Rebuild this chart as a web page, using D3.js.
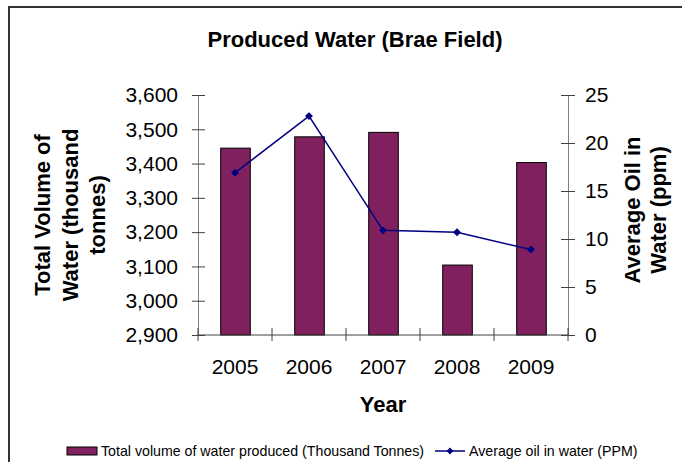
<!DOCTYPE html>
<meta charset="utf-8">
<head>
<style>
body {
  margin: 0;
  background: #fff;
  font-family: 'Liberation Sans', Arial, Helvetica, sans-serif;
}

.axis path {
  stroke: #808080;
}

.axis line {
  stroke: #404040;
}

.axis text {
  font-size: 21px;
  font-family: 'Liberation Sans', Arial, sans-serif;
  fill: #000;
}

.bar {
  fill: #80205f;
  stroke: #000;
  stroke-width: 1;
}

.title, .axis-title {
  font-weight: bold;
  font-size: 22px;
}

.legend text {
  font-size: 14.2px;
}
</style>
</head>

<body>
<div id="chart"></div>

<script src="https://d3js.org/d3.v7.min.js"></script>
<script>

var years = ["2005", "2006", "2007", "2008", "2009"];
var waterVolume = [3445, 3478, 3491, 3104, 3403];
var oilInWater = [16.9, 22.8, 10.9, 10.7, 8.9];
var leftTicks = [2900, 3000, 3100, 3200, 3300, 3400, 3500, 3600];
var rightTicks = [0, 5, 10, 15, 20, 25];

var width = 682, height = 462;
var plot = {left: 198, right: 568, top: 95, bottom: 335};

var svg = d3.select("#chart").append("svg")
    .attr("width", width)
    .attr("height", height);

// outer frame (cut off at right and bottom)
svg.append("rect")
    .attr("x", 9)
    .attr("y", 7)
    .attr("width", 700)
    .attr("height", 500)
    .attr("fill", "none")
    .attr("stroke", "#333")
    .attr("stroke-width", 2);

var x = d3.scaleBand()
    .domain(years)
    .range([plot.left, plot.right])
    .paddingInner(0.6)
    .paddingOuter(0.3);

var xTicks = d3.scaleBand()
    .domain(years)
    .range([plot.left, plot.right]);

var yLeft = d3.scaleLinear()
    .domain([2900, 3600])
    .range([plot.bottom, plot.top]);

var yRight = d3.scaleLinear()
    .domain([0, 25])
    .range([plot.bottom, plot.top]);

var data = years.map(function(d, i) {
  return {year: d, water: waterVolume[i], oil: oilInWater[i]};
});

// bars
svg.selectAll(".bar")
    .data(data)
  .enter().append("rect")
    .attr("class", "bar")
    .attr("x", function(d) { return x(d.year) + 0.5; })
    .attr("width", x.bandwidth())
    .attr("y", function(d) { return yLeft(d.water); })
    .attr("height", function(d) { return plot.bottom - yLeft(d.water); });

// left axis
var leftAxis = svg.append("g")
    .attr("class", "axis")
    .attr("transform", "translate(" + plot.left + ",0)")
    .call(d3.axisLeft(yLeft)
      .tickValues(leftTicks)
      .tickFormat(d3.format(","))
      .tickSizeOuter(0)
      .tickSizeInner(6)
      .tickPadding(14));
leftAxis.selectAll(".tick line").attr("x2", 7).attr("x1", -6);

// right axis
var rightAxis = svg.append("g")
    .attr("class", "axis")
    .attr("transform", "translate(" + plot.right + ",0)")
    .call(d3.axisRight(yRight)
      .tickValues(rightTicks)
      .tickSizeOuter(0)
      .tickSizeInner(7)
      .tickPadding(10));
rightAxis.selectAll(".tick line").attr("x1", -7);

// bottom axis, ticks on category boundaries
var bottom = svg.append("g")
    .attr("class", "axis")
    .attr("transform", "translate(0," + plot.bottom + ")");
bottom.append("line")
    .attr("x1", plot.left)
    .attr("x2", plot.right)
    .attr("stroke", "#404040");
var bounds = years.map(function(d) { return xTicks(d); }).concat([plot.right]);
bottom.selectAll(".btick")
    .data(bounds)
  .enter().append("line")
    .attr("x1", function(d) { return d; })
    .attr("x2", function(d) { return d; })
    .attr("y1", -7)
    .attr("y2", 6);
bottom.selectAll(".blabel")
    .data(years)
  .enter().append("text")
    .attr("x", function(d) { return xTicks(d) + xTicks.bandwidth() / 2; })
    .attr("y", 39)
    .attr("text-anchor", "middle")
    .text(function(d) { return d; });

// oil line
var line = d3.line()
    .x(function(d) { return x(d.year) + x.bandwidth() / 2; })
    .y(function(d) { return yRight(d.oil); });

svg.append("path")
    .datum(data)
    .attr("fill", "none")
    .attr("stroke", "#000080")
    .attr("stroke-width", 1.5)
    .attr("d", line);

svg.selectAll(".marker")
    .data(data)
  .enter().append("path")
    .attr("class", "marker")
    .attr("d", d3.symbol().type(d3.symbolDiamond2).size(40))
    .attr("fill", "#000080")
    .attr("transform", function(d) {
      return "translate(" + (x(d.year) + x.bandwidth() / 2) + "," + yRight(d.oil) + ")";
    });

// titles
svg.append("text")
    .attr("class", "title")
    .attr("x", 355)
    .attr("y", 47)
    .attr("text-anchor", "middle")
    .text("Produced Water (Brae Field)");

svg.append("text")
    .attr("class", "axis-title")
    .attr("x", 383)
    .attr("y", 412)
    .attr("text-anchor", "middle")
    .text("Year");

var midY = (plot.top + plot.bottom) / 2;
var leftTitle = [["Total Volume of", 50], ["Water (thousand", 78], ["tonnes)", 105]];
svg.selectAll(".ltitle")
    .data(leftTitle)
  .enter().append("text")
    .attr("class", "axis-title")
    .attr("text-anchor", "middle")
    .attr("transform", function(d) { return "translate(" + d[1] + "," + midY + ") rotate(-90)"; })
    .text(function(d) { return d[0]; });

var rightTitle = [["Average Oil in", 640], ["Water (ppm)", 666]];
svg.selectAll(".rtitle")
    .data(rightTitle)
  .enter().append("text")
    .attr("class", "axis-title")
    .attr("text-anchor", "middle")
    .attr("transform", function(d) { return "translate(" + d[1] + "," + (midY - 5) + ") rotate(-90)"; })
    .text(function(d) { return d[0]; });

// legend
var legend = svg.append("g").attr("class", "legend");
legend.append("rect")
    .attr("x", 67)
    .attr("y", 447)
    .attr("width", 30)
    .attr("height", 8)
    .attr("fill", "#80205f")
    .attr("stroke", "#000");
legend.append("text")
    .attr("x", 101)
    .attr("y", 456)
    .text("Total volume of water produced (Thousand Tonnes)");
legend.append("line")
    .attr("x1", 435)
    .attr("x2", 465)
    .attr("y1", 451)
    .attr("y2", 451)
    .attr("stroke", "#000080")
    .attr("stroke-width", 1.5);
legend.append("path")
    .attr("d", d3.symbol().type(d3.symbolDiamond2).size(30))
    .attr("fill", "#000080")
    .attr("transform", "translate(450,451)");
legend.append("text")
    .attr("x", 469)
    .attr("y", 456)
    .text("Average oil in water (PPM)");

</script>
</body>
